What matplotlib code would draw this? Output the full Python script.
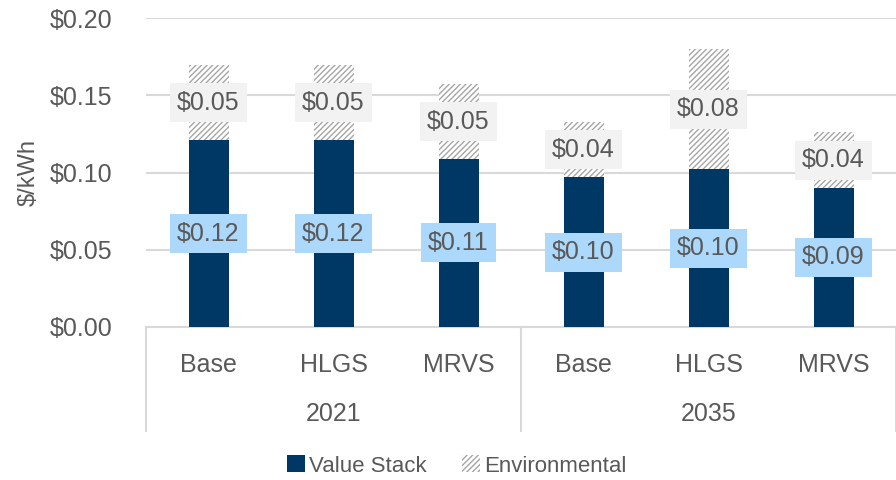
"""Value stack vs environmental value, stacked bars by scenario and year"""
import matplotlib
matplotlib.use("Agg")
import matplotlib.pyplot as plt

scenarios = ["Base", "HLGS", "MRVS", "Base", "HLGS", "MRVS"]
years = ["2021", "2035"]
value_stack = [0.121, 0.121, 0.109, 0.097, 0.102, 0.090]
environmental = [0.0486, 0.0486, 0.048, 0.0356, 0.078, 0.036]

NAVY = "#003865"
TEXT = "#595959"
GRID = "#d9d9d9"

plt.rcParams["font.family"] = ["Liberation Sans", "DejaVu Sans"]
plt.rcParams["hatch.linewidth"] = 1.0

fig = plt.figure(figsize=(8.96, 4.8), dpi=100)
ax = fig.add_axes([146 / 896, 1 - 327 / 480, 750 / 896, 309 / 480])

x = range(len(scenarios))
ax.bar(x, value_stack, width=0.32, color=NAVY, label="Value Stack", zorder=3)
ax.bar(x, environmental, width=0.32, bottom=value_stack, color="white",
       edgecolor="#a6a6a6", hatch="//////", linewidth=0, label="Environmental", zorder=3)

# data labels
for i in x:
    ax.text(i, value_stack[i] / 2, f"${value_stack[i]:.2f}", ha="center", va="center",
            fontsize=18, color=TEXT, zorder=4,
            bbox=dict(boxstyle="square,pad=0.3", fc="#acd8fb", ec="none"))
    ax.text(i, value_stack[i] + environmental[i] / 2, f"${environmental[i]:.2f}",
            ha="center", va="center", fontsize=18, color=TEXT, zorder=4,
            bbox=dict(boxstyle="square,pad=0.3", fc="#f2f2f2", ec="none"))

ax.set_xlim(-0.5, len(scenarios) - 0.5)
ax.set_ylim(0, 0.20)
ax.set_yticks([0, 0.05, 0.10, 0.15, 0.20])
ax.set_yticklabels([f"${v:.2f}" for v in ax.get_yticks()], fontsize=18, color=TEXT)
ax.tick_params(axis="y", length=0, pad=24)
ax.yaxis.grid(True, color=GRID, linewidth=1.5, zorder=0)
ax.set_ylabel("$/kWh", fontsize=17, color=TEXT)
ax.yaxis.set_label_coords(-0.142, 0.5)

for side in ["top", "right", "left"]:
    ax.spines[side].set_visible(False)
ax.spines["bottom"].set_color(GRID)
ax.spines["bottom"].set_linewidth(1.5)

# category and group labels under the axis
ax.set_xticks(list(x))
ax.set_xticklabels(scenarios, fontsize=18, color=TEXT)
ax.tick_params(axis="x", length=0, pad=19)
trans = ax.get_xaxis_transform()
for g, year in enumerate(years):
    ax.text(g * 3 + 1, -0.28, year, transform=trans, ha="center", va="center",
            fontsize=18, color=TEXT)
for xpos in [-0.5, 2.5, 5.5]:
    ax.plot([xpos, xpos], [0, -0.335], transform=trans, color=GRID, lw=1.5, clip_on=False)

leg = fig.legend(loc="center", bbox_to_anchor=(0.51, 1 - 466 / 480), ncol=2, frameon=False,
                 fontsize=16, handlelength=0.8, handleheight=0.8, handletextpad=0.2,
                 columnspacing=1.6)
for t in leg.get_texts():
    t.set_color(TEXT)

fig.savefig("out.png", dpi=100)
